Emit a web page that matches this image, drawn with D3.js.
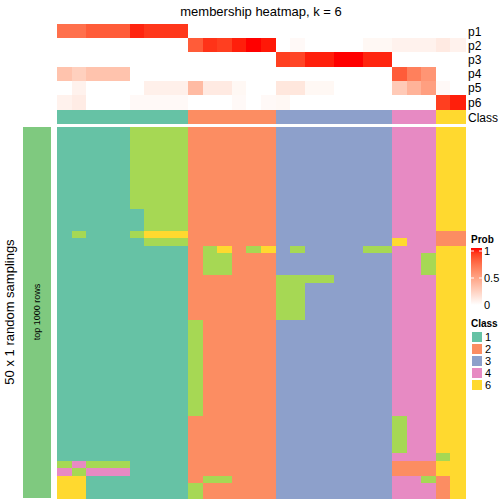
<!DOCTYPE html>
<html>
<head>
<meta charset="utf-8">
<script src="https://cdn.jsdelivr.net/npm/d3@7"></script>
<style>
html,body{margin:0;padding:0;background:#fff;}
text{font-family:"Liberation Sans",Arial,sans-serif;}
</style>
</head>
<body>
<svg id="chart" width="504" height="504"></svg>
<script>
// ---------------- data ----------------
const columnClass = [1,1,1,1,1,1,1,1,1,2,2,2,2,2,2,3,3,3,3,3,3,3,3,4,4,4,6,6];
const probRows = ["p1","p2","p3","p4","p5","p6"];
const p1 = [0.72,0.72,0.8,0.8,0.8,0.96,0.92,0.92,0.92,0,0,0,0,0,0,0,0,0,0,0,0,0,0,0,0,0,0,0];
const p2 = [0,0,0,0,0,0,0,0,0,0.8,0.93,0.9,0.97,1.0,0.98,0,0.03,0,0,0,0,0.04,0.04,0.07,0.07,0.07,0.11,0.07];
const p3 = [0,0,0,0,0,0,0,0,0,0,0,0,0,0,0,0.9,0.88,0.97,0.97,1.0,1.0,0.96,0.96,0,0,0,0,0];
const p4 = [0.32,0.25,0.32,0.32,0.32,0,0,0,0,0,0,0,0,0,0,0,0,0,0,0,0,0,0,0.8,0.65,0.55,0,0];
const p5 = [0,0.07,0,0,0,0,0.08,0.08,0.08,0.36,0.11,0.11,0.04,0,0,0.13,0.13,0.04,0.04,0,0,0,0,0.28,0.4,0.5,0.03,0];
const p6 = [0.07,0.1,0,0,0,0.03,0.03,0.03,0.03,0,0,0,0.03,0,0.03,0.04,0,0,0,0,0,0,0,0,0,0,0.9,0.97];
const probValues = [p1,p2,p3,p4,p5,p6];
// 50 random samplings: class label per column (one character per column)
const samplingRows = [
"1111155552222223333333344466",
"1111155552222223333333344466",
"1111155552222223333333344466",
"1111155552222223333333344466",
"1111155552222223333333344466",
"1111155552222223333333344466",
"1111155552222223333333344466",
"1111155552222223333333344466",
"1111155552222223333333344466",
"1111155552222223333333344466",
"1111155552222223333333344466",
"1111115552222223333333344466",
"1111115552222223333333344466",
"1111115552222223333333344466",
"1511156662222223333333344422",
"1111115552222223333333364422",
"1111111112562563533335544466",
"1111111112552223333333344566",
"1111111112552223333333344566",
"1111111112552223333333344566",
"1111111112222225555333344466",
"1111111112222225533333344466",
"1111111112222225533333344466",
"1111111112222225533333344466",
"1111111112222225533333344466",
"1111111112222225533333344466",
"1111111115222223333333344466",
"1111111115222223333333344466",
"1111111115222223333333344466",
"1111111115222223333333344466",
"1111111115222223333333344466",
"1111111115222223333333344466",
"1111111115222223333333344466",
"1111111115222223333333344466",
"1111111115222223333333344466",
"1111111115222223333333344466",
"1111111115222223333333344466",
"1111111115222223333333344466",
"1111111115222223333333344466",
"1111111112222223333333354466",
"1111111112222223333333354466",
"1111111112222223333333354466",
"1111111112222223333333354466",
"1111111112222223333333354466",
"1111111112222223333333344456",
"5455511112222223333333322266",
"4544411112222223333333322266",
"6611111112552223333333344526",
"6611111115222223333333344426",
"6611111115222223333333344426"
];
const legendClasses = ["1","2","3","4","6"];
const probTicks = [0,0.5,1];
const classColors = {"1":"#66C2A5","2":"#FC8D62","3":"#8DA0CB","4":"#E78AC3","5":"#A6D854","6":"#FFD92F"};

// ---------------- drawing ----------------
const svg = d3.select("#chart");
const nCol = columnClass.length;
const x = d3.scaleBand().domain(d3.range(nCol)).range([57,465]).paddingInner(0).paddingOuter(0);
const yTop = d3.scaleBand().domain(probRows).range([24,109.2]);
const yMain = d3.scaleBand().domain(d3.range(samplingRows.length)).range([127,498]);
const probColor = d3.scaleLinear().domain([0,1]).range(["#FFFFFF","#FF0000"]).interpolate(d3.interpolateLab);

// title
svg.append("text").attr("x",261).attr("y",16).attr("text-anchor","middle")
  .attr("font-size",13).text("membership heatmap, k = 6");

// probability heatmap
probRows.forEach((r,i)=>{
  svg.append("g").attr("shape-rendering","crispEdges").selectAll("rect").data(probValues[i]).join("rect")
    .attr("x",(d,j)=>x(j)).attr("y",yTop(r))
    .attr("width",x.bandwidth()+0.5).attr("height",yTop.bandwidth()+0.5)
    .attr("fill",d=>probColor(d));
  svg.append("text").attr("x",468).attr("y",yTop(r)+yTop.bandwidth()/2+4.5)
    .attr("font-size",12).text(r);
});
// class annotation
svg.append("g").attr("shape-rendering","crispEdges").selectAll("rect").data(columnClass).join("rect")
  .attr("x",(d,j)=>x(j)).attr("y",110).attr("width",x.bandwidth()+0.5).attr("height",14)
  .attr("fill",d=>classColors[d]);
svg.append("text").attr("x",468).attr("y",121.5).attr("font-size",12).text("Class");

// main heatmap
const cells = [];
samplingRows.forEach((row,i)=>{ row.split("").forEach((c,j)=>cells.push({i,j,c})); });
svg.append("g").attr("shape-rendering","crispEdges").selectAll("rect").data(cells).join("rect")
  .attr("x",d=>x(d.j)).attr("y",d=>yMain(d.i))
  .attr("width",x.bandwidth()+0.5).attr("height",yMain.bandwidth()+0.5)
  .attr("fill",d=>classColors[d.c]);

// left annotation bar
svg.append("rect").attr("x",23).attr("y",127).attr("width",28).attr("height",371).attr("fill","#7FC97F");
svg.append("text").attr("transform","translate(40,312) rotate(-90)").attr("text-anchor","middle")
  .attr("font-size",9).text("top 1000 rows");
svg.append("text").attr("transform","translate(14,312) rotate(-90)").attr("text-anchor","middle")
  .attr("font-size",13).text("50 x 1 random samplings");

// Prob legend
const defs = svg.append("defs");
const grad = defs.append("linearGradient").attr("id","pg").attr("x1",0).attr("y1",1).attr("x2",0).attr("y2",0);
d3.range(0,1.01,0.1).forEach(t=>grad.append("stop").attr("offset",t).attr("stop-color",probColor(t)));
svg.append("text").attr("x",471).attr("y",243).attr("font-size",10).attr("font-weight","bold").text("Prob");
const yLeg = d3.scaleLinear().domain([0,1]).range([305,251]);
svg.append("rect").attr("x",471).attr("y",248).attr("width",11).attr("height",57).attr("fill","url(#pg)");
probTicks.forEach(t=>{
  svg.append("line").attr("x1",471).attr("x2",474).attr("y1",yLeg(t)).attr("y2",yLeg(t)).attr("stroke","#fff").attr("stroke-width",1);
  svg.append("line").attr("x1",479).attr("x2",482).attr("y1",yLeg(t)).attr("y2",yLeg(t)).attr("stroke","#fff").attr("stroke-width",1);
  svg.append("text").attr("x",484).attr("y",yLeg(t)+4).attr("font-size",11).text(t===0.5?"0.5":String(t));
});

// Class legend
svg.append("text").attr("x",471).attr("y",327).attr("font-size",10).attr("font-weight","bold").text("Class");
const yCls = d3.scaleBand().domain(legendClasses).range([331,391]);
legendClasses.forEach(c=>{
  svg.append("rect").attr("x",471.5).attr("y",yCls(c)+0.5).attr("width",11).attr("height",yCls.bandwidth()-1)
    .attr("fill",classColors[c]).attr("stroke","#fff").attr("stroke-width",1);
  svg.append("text").attr("x",485).attr("y",yCls(c)+yCls.bandwidth()/2+4).attr("font-size",11).text(c);
});
</script>
</body>
</html>
